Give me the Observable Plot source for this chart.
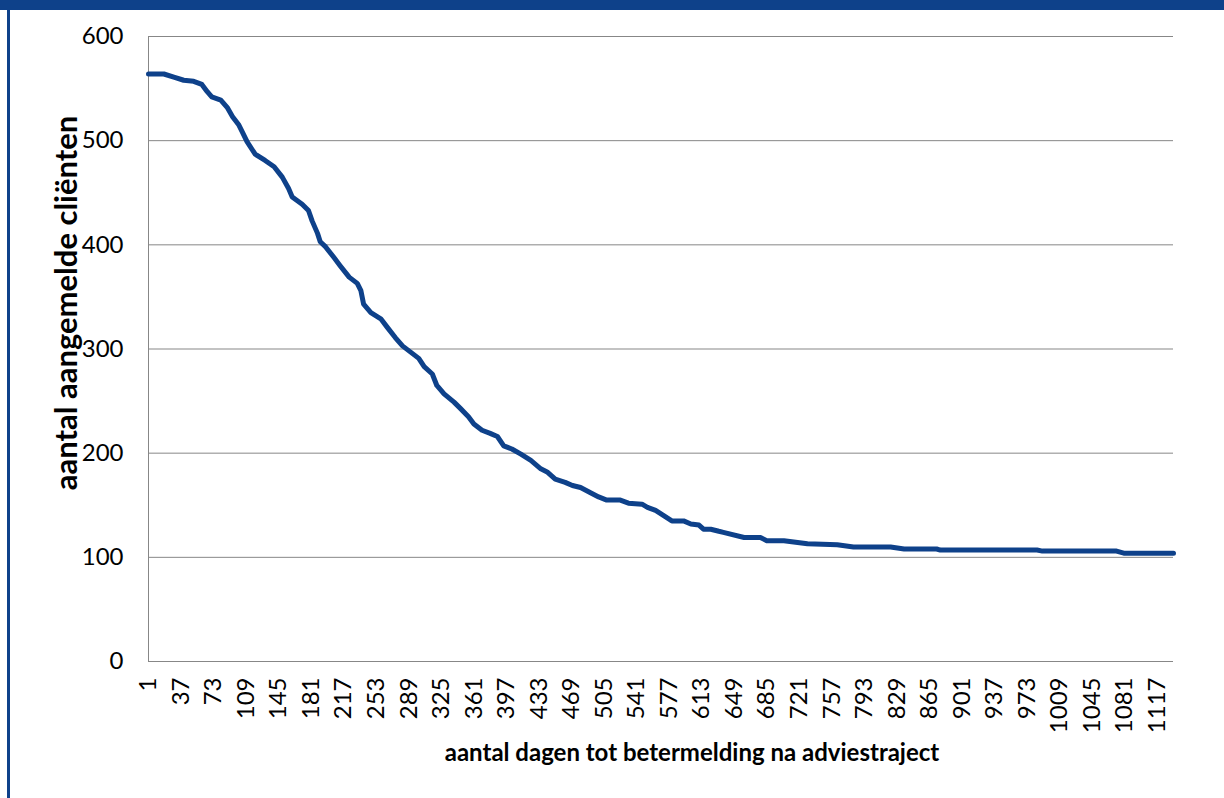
<!DOCTYPE html>
<html>
<head>
<meta charset="utf-8">
<script src="https://cdn.jsdelivr.net/npm/d3@7"></script>
<script src="https://cdn.jsdelivr.net/npm/@observablehq/plot@0.6"></script>
<style>
  html, body { margin: 0; padding: 0; background: #fff; }
  #wrap { position: relative; width: 1224px; height: 798px; overflow: hidden; background: #fff; }
  #topbar { position: absolute; left: 0; top: 0; width: 1224px; height: 10px; background: #0e418a; }
  #leftbar { position: absolute; left: 7px; top: 0; width: 3px; height: 798px; background: #0e418a; }
  #chart { position: absolute; left: 0; top: 0; }
</style>
</head>
<body>
<div id="wrap">
  <div id="chart"></div>
  <div id="topbar"></div>
  <div id="leftbar"></div>
</div>
<script>
// days since advice trajectory (category index) and number of registered clients still not recovered
const days = [1, 18, 29, 40, 51, 60, 66, 71, 81, 88, 94, 101, 105, 110, 119, 130, 140, 149, 156, 160,
  171, 178, 182, 188, 191, 197, 206, 213, 223, 232, 236, 239, 247, 258, 265, 274, 282, 291, 300, 306,
  315, 320, 328, 339, 346, 355, 361, 370, 379, 387, 394, 403, 413, 424, 435, 442, 451, 462, 470, 479,
  490, 499, 508, 523, 532, 547, 553, 562, 571, 580, 593, 601, 610, 615, 623, 632, 637, 660, 678, 685,
  704, 730, 763, 781, 822, 837, 873, 877, 984, 990, 1072, 1080, 1135];
const clients = [564, 564, 561, 558, 557, 554, 547, 542, 539, 532, 523, 515, 508, 499, 487, 481, 475, 465, 454, 446,
  439, 433, 423, 411, 403, 398, 388, 380, 369, 363, 356, 343, 335, 329, 321, 311, 303, 297, 291, 283,
  276, 265, 257, 249, 243, 235, 228, 222, 219, 216, 207, 204, 199, 193, 185, 182, 175, 172, 169, 167,
  162, 158, 155, 155, 152, 151, 148, 145, 140, 135, 135, 132, 131, 127, 127, 125, 124, 119, 119, 116,
  116, 113, 112, 110, 110, 108, 108, 107, 107, 106, 106, 104, 104];
const xTickLabels = [1, 37, 73, 109, 145, 181, 217, 253, 289, 325, 361, 397, 433, 469, 505, 541, 577, 613,
  649, 685, 721, 757, 793, 829, 865, 901, 937, 973, 1009, 1045, 1081, 1117];
const yTickLabels = [0, 100, 200, 300, 400, 500, 600];
const xTitle = "aantal dagen tot betermelding na adviestraject";
const yTitle = "aantal aangemelde cliënten";

const data = days.map((d, i) => ({day: d, n: clients[i]}));

const chart = Plot.plot({
  width: 1224,
  height: 798,
  marginLeft: 148,
  marginRight: 51,
  marginTop: 36,
  marginBottom: 137,
  style: {fontFamily: "Lato, 'Open Sans', sans-serif", fontSize: "24px", color: "#000", background: "transparent"},
  x: {domain: [1, 1135], ticks: xTickLabels, tickFormat: d => String(d), tickRotate: -90, tickSize: 0, tickPadding: 16, label: null},
  y: {domain: [0, 600], ticks: yTickLabels, tickSize: 0, tickPadding: 25, label: null},
  marks: [
    Plot.ruleY(yTickLabels, {stroke: "#878787", strokeWidth: 1}),
    Plot.ruleX([1], {stroke: "#878787", strokeWidth: 1}),
    Plot.lineY(data, {x: "day", y: "n", stroke: "#0e418a", strokeWidth: 5, strokeLinejoin: "round", strokeLinecap: "round"}),
    Plot.text([xTitle], {text: d => d, frameAnchor: "bottom", dx: 31, dy: 99, fontWeight: "bold", fontSize: 24, fill: "#000"}),
    Plot.text([yTitle], {text: d => d, frameAnchor: "left", textAnchor: "middle", rotate: -90, dx: -81, dy: -46, fontWeight: "bold", fontSize: 31, fill: "#000"})
  ]
});
document.getElementById("chart").appendChild(chart);
</script>
</body>
</html>
